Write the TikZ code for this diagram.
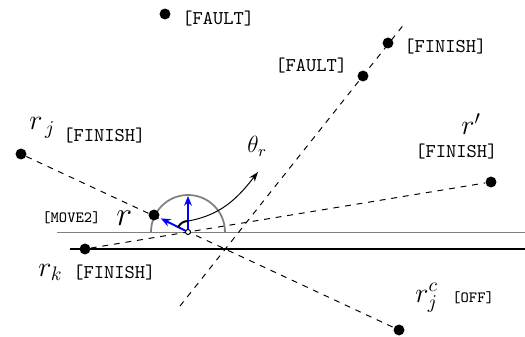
\documentclass[tikz,border=0pt]{standalone}
\usetikzlibrary{arrows.meta, calc, backgrounds}
\begin{document}
\begin{tikzpicture}[
  x=0.018cm, y=0.018cm,
  robot/.style={circle, fill=black, inner sep=0pt, minimum size=5.6pt},
  origin/.style={circle, draw=black, fill=white, inner sep=0pt, minimum size=2.6pt, line width=0.5pt},
  status/.style={font=\ttfamily, inner sep=0pt, anchor=base west},
  smallstatus/.style={font=\ttfamily\footnotesize, inner sep=0pt, anchor=base west},
  rlabel/.style={font=\Large, inner sep=0pt, anchor=base west},
  ray/.style={dashed, line width=0.5pt},
  heading/.style={-{Stealth[length=5pt, width=4pt]}, blue, line width=1pt},
  turn/.style={-{Stealth[length=5pt, width=3.5pt]}, line width=0.5pt}
]
\useasboundingbox (0,0) rectangle (525,336);

% ----------------- ROBOTS -----------------
\node[robot] (fault1) at (165, 322) {};
\node[robot] (fault2) at (363, 260) {};
\node[robot] (finish) at (388, 293) {};
\node[robot] (rj) at (21, 182) {};
\node[robot] (rjc) at (399, 6) {};
\node[robot] (rk) at (85, 87) {};
\node[robot] (rp) at (491, 154) {};
\node[robot] (r) at (154, 121) {};
\node[origin] (o) at (188, 104) {};

\coordinate (low) at (180, 30);
\coordinate (high) at (405, 313);
\coordinate (thend) at (258, 164);

% ----------------- LABELS -----------------
\node[status] (lfault1) at (182, 311) {[FAULT]};
\node[status] (lfault2) at (275, 264) {[FAULT]};
\node[status] (lfinish) at (404, 283) {[FINISH]};
\node[rlabel] (nrp) at (461, 201) {$r'$};
\node[status] (lrp) at (415, 179) {[FINISH]};
\node[rlabel] (nrj) at (29, 206) {$r_{\,j}$};
\node[status] (lrj) at (63, 194) {[FINISH]};
\node[smallstatus] (lr) at (42, 114) {[MOVE2]};
\node[rlabel, font=\LARGE] (nr) at (116, 111) {$r$};
\node[rlabel] (nrk) at (38, 60) {$r_k$};
\node[status] (lrk) at (73, 58) {[FINISH]};
\node[rlabel] (nrjc) at (415, 34) {$r_j^c$};
\node[smallstatus] (lrjc) at (452, 34) {[OFF]};
\node[inner sep=0pt, anchor=base west, font=\large] (theta) at (247, 183) {$\theta_r$};

% ----------------- LINES -----------------
\begin{scope}[on background layer]
    \draw[gray, line width=0.5pt] (57, 104) -- (525, 104);
    \draw[line width=1pt] (70, 87) -- (525, 87);
    \draw[gray, line width=0.9pt] ($(o.center)+(0:37)$) arc (0:180:37);

    \draw[ray] (rj) -- (rjc);
    \draw[ray] (rk) -- (rp);
    \draw[ray] (low) -- (high);

    \draw[heading] (o.center) -- ++(0, 36);
    \draw[heading] (o.center) -- ($(o.center)!0.8!(r.center)$);

    \draw[line width=1pt] ($(o.center)+(153:11)$) arc (153:90:11);
    \draw[turn] ($(o.center)+(90:11)$) to[out=10, in=232] (thend);
\end{scope}

\end{tikzpicture}
\end{document}
